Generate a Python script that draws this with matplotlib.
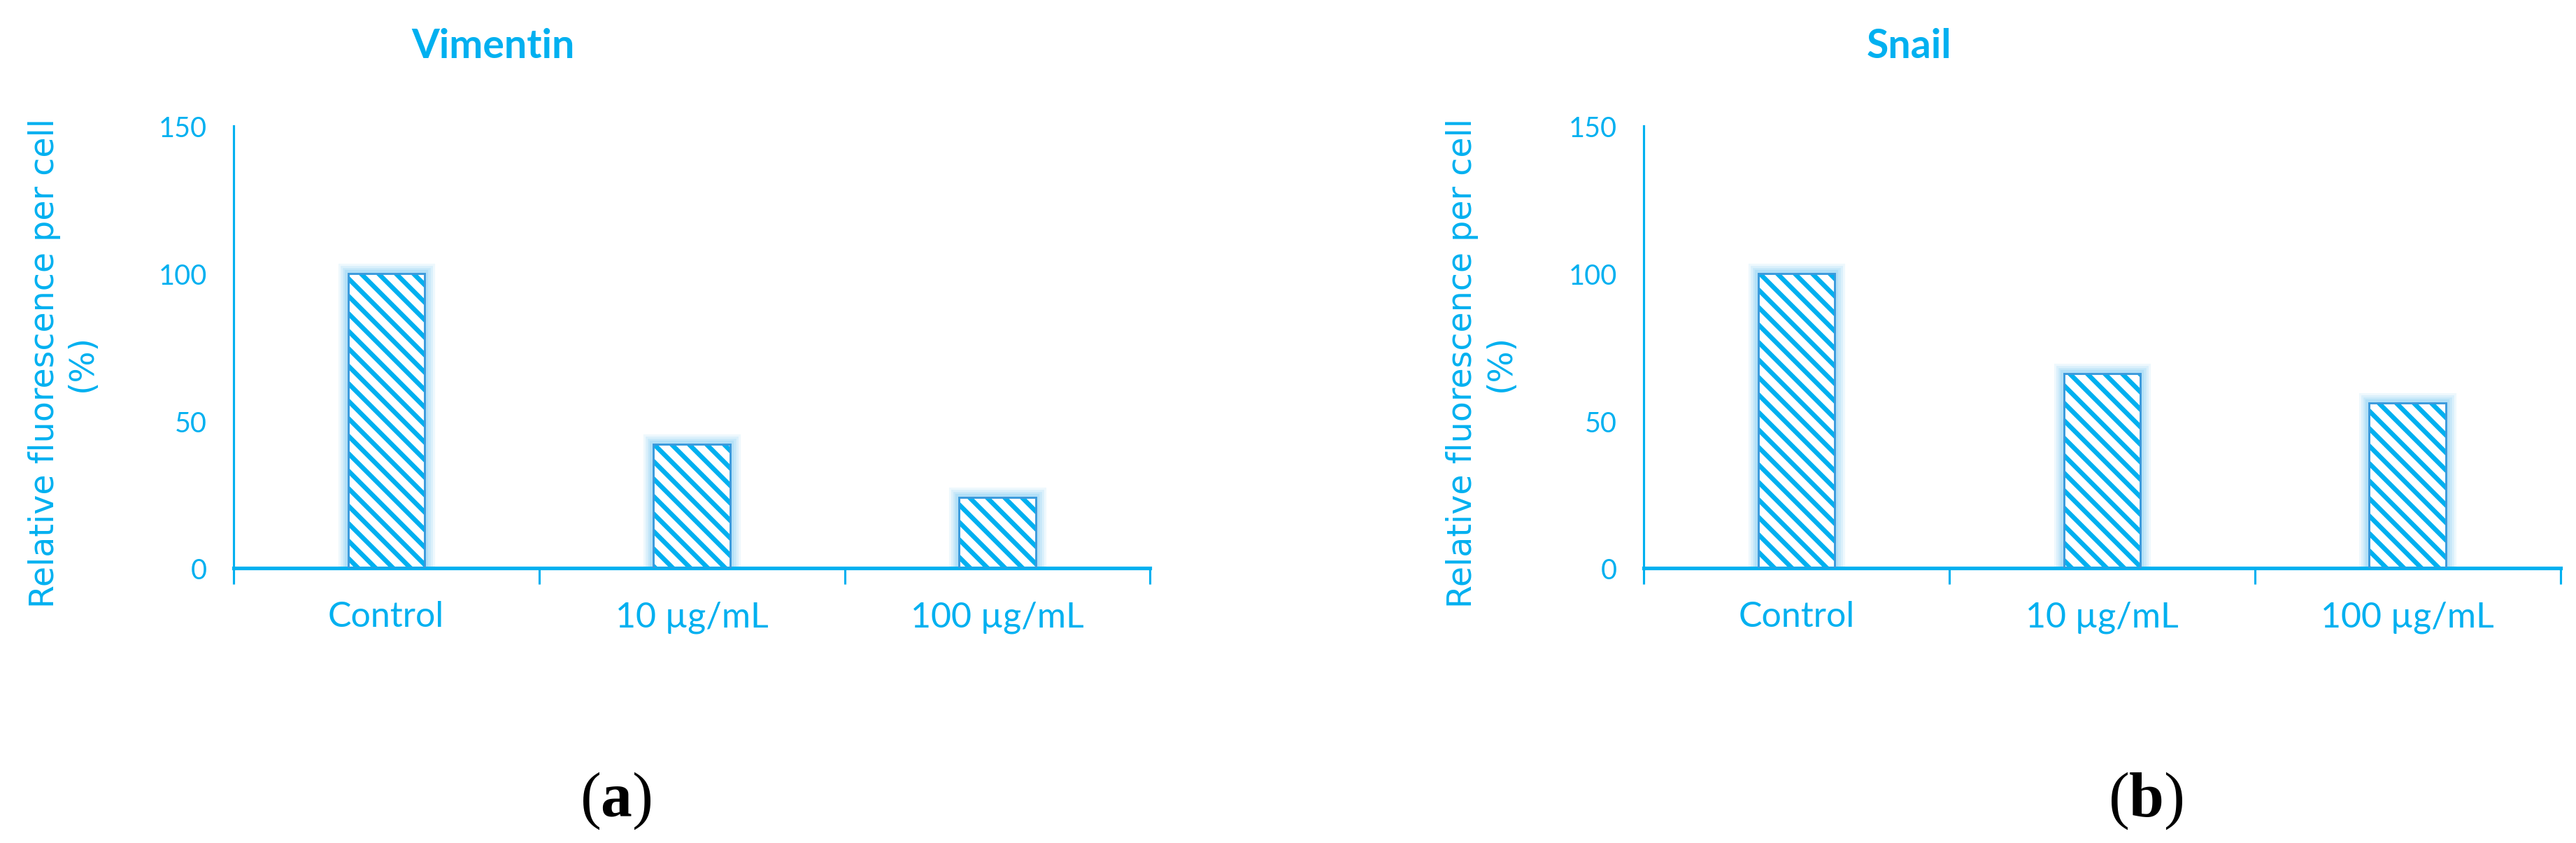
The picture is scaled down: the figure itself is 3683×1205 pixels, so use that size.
import numpy as np
import matplotlib
matplotlib.use('Agg')
import matplotlib.pyplot as plt
import matplotlib.patheffects as pe

# data
categories = ['Control', '10 µg/mL', '100 µg/mL']
vimentin = [100, 42, 24]
snail = [100, 66, 56]
yticks = [0, 50, 100, 150]
titles = ['Vimentin', 'Snail']
letters = ['a', 'b']

cyan = '#00B0F0'
edge = '#3A9ADC'
glow = '#8FD3F6'

plt.rcParams['font.family'] = ['Lato', 'DejaVu Sans']
plt.rcParams['hatch.linewidth'] = 3.2
plt.rcParams['mathtext.fontset'] = 'custom'
plt.rcParams['mathtext.rm'] = 'Liberation Serif'
plt.rcParams['mathtext.bf'] = 'Liberation Serif:bold'

DPI = 150
fig = plt.figure(figsize=(3683 / DPI, 1206 / DPI), dpi=DPI)

# panel positions (figure fractions)
ax_left = [0.0906, 0.638]
title_x = [0.1913, 0.741]
ylab_x = [0.0245, 0.575]
letter_x = [0.239, 0.833]


def panel(i, values):
    ax = fig.add_axes([ax_left[i], 0.3255, 0.3559, 0.5244])
    x = np.arange(len(categories)) + 0.5

    # soft glow round the bars
    glow_fx = [pe.Stroke(linewidth=w, foreground=glow, alpha=a)
               for w, a in [(14, 0.15), (11, 0.2), (8, 0.25), (5, 0.35)]]
    ax.bar(x, values, width=0.25, fill=False, edgecolor='none', zorder=1,
           path_effects=glow_fx)
    ax.bar(x, values, width=0.25, facecolor='white', edgecolor=cyan,
           linewidth=0, hatch='\\\\', zorder=2)
    ax.bar(x, values, width=0.25, fill=False, edgecolor=edge,
           linewidth=1.4, zorder=3)

    ax.set_xlim(0, len(categories))
    ax.set_ylim(0, 150)
    ax.set_yticks(yticks)
    ax.tick_params(axis='y', length=0, pad=18, labelsize=19, labelcolor=cyan)

    ax.set_xticks(np.arange(len(categories) + 1))
    ax.set_xticklabels([])
    ax.set_xticks(x, minor=True)
    ax.set_xticklabels(categories, minor=True)
    ax.tick_params(axis='x', which='major', length=11, width=1.5, color=cyan,
                   direction='out')
    ax.tick_params(axis='x', which='minor', length=0, pad=22, labelsize=24,
                   labelcolor=cyan)

    for s in ['top', 'right']:
        ax.spines[s].set_visible(False)
    ax.spines['left'].set_color(cyan)
    ax.spines['left'].set_linewidth(1.5)
    ax.spines['bottom'].set_color(cyan)
    ax.spines['bottom'].set_linewidth(2.5)

    fig.text(title_x[i], 0.945, titles[i], ha='center', va='center',
             fontsize=27.5, fontweight='bold', color=cyan)
    fig.text(ylab_x[i], 0.57, 'Relative fluorescence per cell\n(%)',
             rotation=90, ha='center', va='center', multialignment='center',
             fontsize=22.8, color=cyan, family='DejaVu Sans')
    fig.text(letter_x[i], 0.0513, r'$(\mathbf{%s})$' % letters[i],
             ha='center', va='center', fontsize=43, color='black')
    return ax


panel(0, vimentin)
panel(1, snail)

fig.savefig('out.png', dpi=DPI, facecolor='white')
